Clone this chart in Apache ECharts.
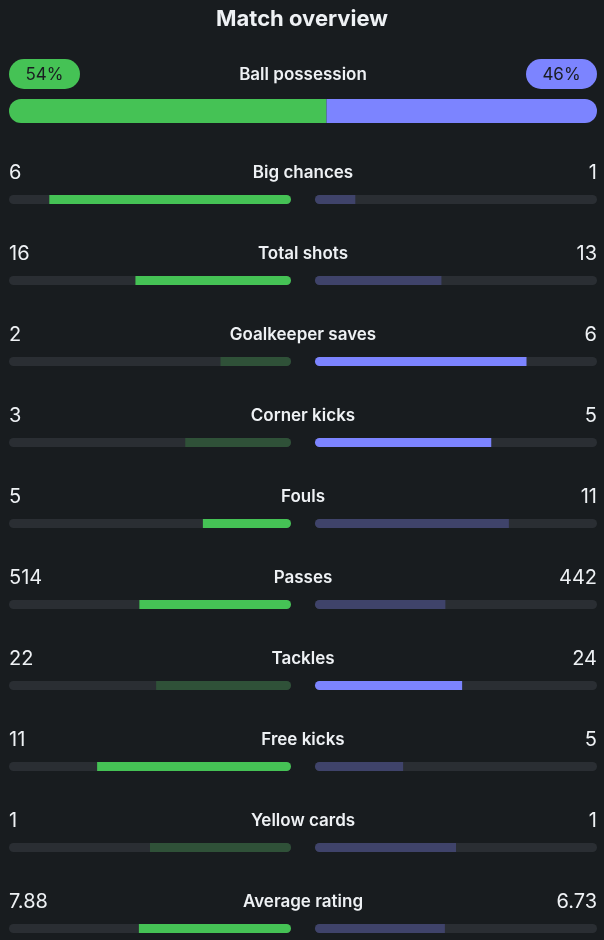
<!DOCTYPE html>
<html>
<head>
<meta charset="utf-8">
<script src="https://cdn.jsdelivr.net/npm/echarts@6/dist/echarts.min.js"></script>
<style>
  html, body { margin: 0; padding: 0; background: #181c1f; }
  #chart { width: 604px; height: 940px; }
</style>
</head>
<body>
<div id="chart"></div>
<script>
// possession
const possessionHome = 54;
const possessionAway = 46;

// stat rows
const statNames = ['Big chances', 'Total shots', 'Goalkeeper saves', 'Corner kicks', 'Fouls',
    'Passes', 'Tackles', 'Free kicks', 'Yellow cards', 'Average rating'];
const homeValues = [6, 16, 2, 3, 5, 514, 22, 11, 1, 7.88];
const awayValues = [1, 13, 6, 5, 11, 442, 24, 5, 1, 6.73];
const lowerIsBetter = [false, false, false, false, true, false, false, false, false, false];

const GREEN = '#45c255';
const GREEN_DIM = '#2f5138';
const PURPLE = '#7c84ff';
const PURPLE_DIM = '#3f436a';
const TRACK = '#2a2e33';
const TEXT = '#eef1f4';
const FONT = 'Inter, "Noto Sans", sans-serif';
const BAR_H = 9;

const chart = echarts.init(document.getElementById('chart'));

function isBetter(mine, other, lower) {
    if (mine === other) return false;
    return lower ? mine < other : mine > other;
}

// one side of the stat rows, drawn through its own grid
function sideItem(side) {
    return function (params, api) {
        const i = api.value(0);
        const frac = api.value(1);
        const h = homeValues[i], a = awayValues[i];
        const start = api.coord([0, i]);   // inner end (center side)
        const end = api.coord([1, i]);     // outer end
        const fill = api.coord([frac, i]);
        const y = start[1] - BAR_H / 2;
        const r = BAR_H / 2;
        const ty = start[1] - 27;
        const children = [];
        const x0 = Math.min(start[0], end[0]);
        children.push({
            type: 'rect',
            shape: { x: x0, y: y, width: Math.abs(end[0] - start[0]), height: BAR_H, r: r },
            style: { fill: TRACK }
        });
        let color;
        if (side === 'home') {
            color = isBetter(h, a, lowerIsBetter[i]) ? GREEN : GREEN_DIM;
            children.push({
                type: 'rect',
                shape: { x: fill[0], y: y, width: start[0] - fill[0], height: BAR_H, r: [0, r, r, 0] },
                style: { fill: color }
            });
            children.push({
                type: 'text',
                style: { x: end[0], y: ty, text: String(h), fill: TEXT,
                    font: '400 20px ' + FONT, textAlign: 'left', textVerticalAlign: 'middle' }
            });
            children.push({
                type: 'text',
                style: { x: 303, y: ty, text: statNames[i], fill: TEXT,
                    font: '600 17px ' + FONT, textAlign: 'center', textVerticalAlign: 'middle' }
            });
        } else {
            color = isBetter(a, h, lowerIsBetter[i]) ? PURPLE : PURPLE_DIM;
            children.push({
                type: 'rect',
                shape: { x: start[0], y: y, width: fill[0] - start[0], height: BAR_H, r: [r, 0, 0, r] },
                style: { fill: color }
            });
            children.push({
                type: 'text',
                style: { x: end[0], y: ty, text: String(a), fill: TEXT,
                    font: '400 20px ' + FONT, textAlign: 'right', textVerticalAlign: 'middle' }
            });
        }
        return { type: 'group', children: children };
    };
}

function possessionItem(params, api) {
    const share = api.value(0);
    const left = api.coord([0, 0]);
    const mid = api.coord([share, 0]);
    const right = api.coord([100, 0]);
    const cy = left[1];
    const h = 24, r = 12;
    const pillW = 71, pillH = 30, pillY = cy - 37 - pillH / 2;
    const ty = cy - 36;
    return {
        type: 'group',
        children: [
            { type: 'rect', shape: { x: left[0], y: cy - h / 2, width: mid[0] - left[0], height: h, r: [r, 0, 0, r] }, style: { fill: GREEN } },
            { type: 'rect', shape: { x: mid[0], y: cy - h / 2, width: right[0] - mid[0], height: h, r: [0, r, r, 0] }, style: { fill: PURPLE } },
            { type: 'rect', shape: { x: left[0], y: pillY, width: pillW, height: pillH, r: pillH / 2 }, style: { fill: GREEN } },
            { type: 'rect', shape: { x: right[0] - pillW, y: pillY, width: pillW, height: pillH, r: pillH / 2 }, style: { fill: PURPLE } },
            { type: 'text', style: { x: left[0] + pillW / 2, y: ty, text: possessionHome + '%', fill: '#1a1d21',
                font: '400 17px ' + FONT, textAlign: 'center', textVerticalAlign: 'middle' } },
            { type: 'text', style: { x: right[0] - pillW / 2, y: ty, text: possessionAway + '%', fill: '#1a1d21',
                font: '400 17px ' + FONT, textAlign: 'center', textVerticalAlign: 'middle' } },
            { type: 'text', style: { x: 303, y: ty, text: 'Ball possession', fill: TEXT,
                font: '600 17px ' + FONT, textAlign: 'center', textVerticalAlign: 'middle' } }
        ]
    };
}

const rows = statNames.map((n, i) => i);
const homeData = rows.map(i => [i, homeValues[i] / (homeValues[i] + awayValues[i])]);
const awayData = rows.map(i => [i, awayValues[i] / (homeValues[i] + awayValues[i])]);

const hiddenAxis = { show: false };

const option = {
    backgroundColor: '#181c1f',
    animation: false,
    title: {
        text: 'Match overview',
        left: 'center',
        top: 3,
        textStyle: { color: TEXT, fontSize: 22, fontWeight: 'bold', fontFamily: FONT }
    },
    grid: [
        { left: 9, top: 99, width: 588, height: 24 },
        { left: 9, top: 199.5, width: 282, height: 729 },
        { left: 315, top: 199.5, width: 282, height: 729 }
    ],
    xAxis: [
        { gridIndex: 0, type: 'value', min: 0, max: 100, ...hiddenAxis },
        { gridIndex: 1, type: 'value', min: 0, max: 1, inverse: true, ...hiddenAxis },
        { gridIndex: 2, type: 'value', min: 0, max: 1, ...hiddenAxis }
    ],
    yAxis: [
        { gridIndex: 0, type: 'category', data: ['Ball possession'], ...hiddenAxis },
        { gridIndex: 1, type: 'category', data: statNames, inverse: true, boundaryGap: false, ...hiddenAxis },
        { gridIndex: 2, type: 'category', data: statNames, inverse: true, boundaryGap: false, ...hiddenAxis }
    ],
    series: [
        { type: 'custom', xAxisIndex: 0, yAxisIndex: 0, renderItem: possessionItem, data: [[possessionHome]], silent: true },
        { type: 'custom', xAxisIndex: 1, yAxisIndex: 1, renderItem: sideItem('home'), data: homeData, encode: { x: 1, y: 0 }, silent: true },
        { type: 'custom', xAxisIndex: 2, yAxisIndex: 2, renderItem: sideItem('away'), data: awayData, encode: { x: 1, y: 0 }, silent: true }
    ]
};

chart.setOption(option);
</script>
</body>
</html>
